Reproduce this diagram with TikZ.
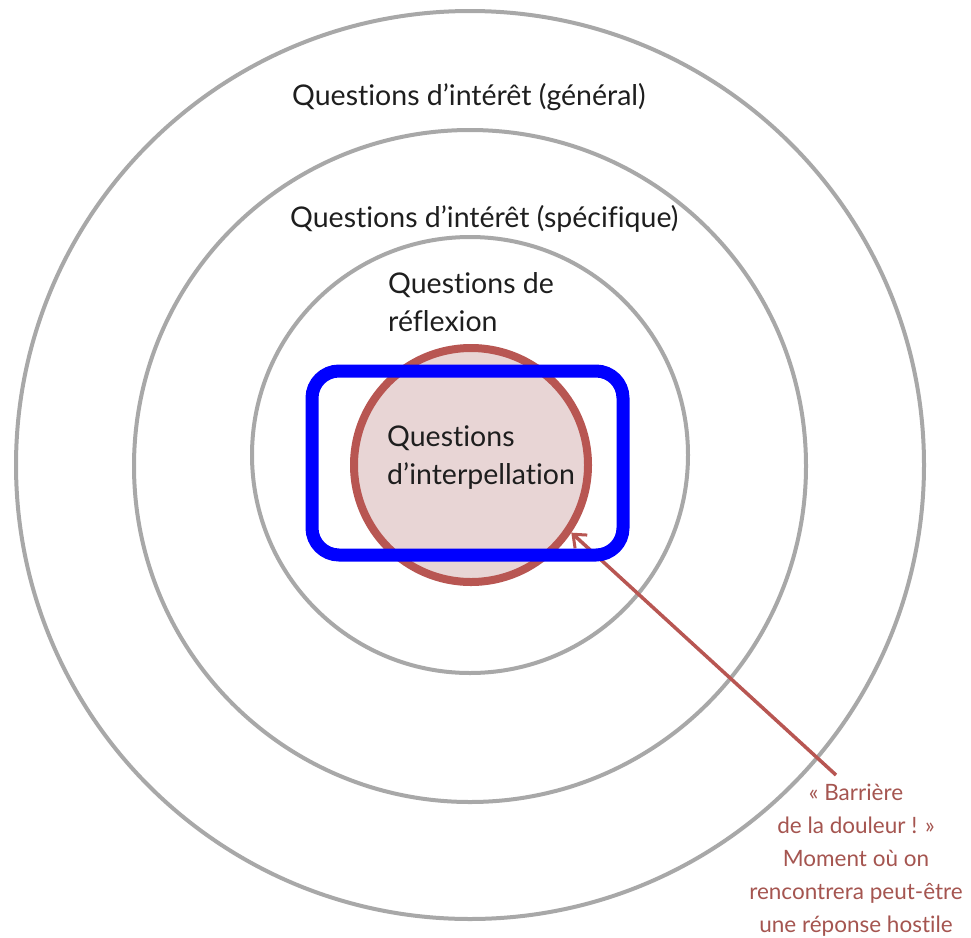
\documentclass[tikz,border=0pt]{standalone}
\usepackage{fontspec}
\setmainfont{Lato}[Ligatures=NoCommon]
\usetikzlibrary{arrows.meta}
\definecolor{ringgray}{RGB}{168,168,168}
\definecolor{corered}{RGB}{184,86,82}
\definecolor{corefill}{RGB}{232,213,213}
\definecolor{notered}{RGB}{165,85,80}
\definecolor{txt}{RGB}{30,30,30}
\tikzset{
  ring/.style={circle, draw=ringgray, line width=4pt, inner sep=0pt},
  lbl/.style={anchor=base west, inner sep=0pt, text=txt, font=\fontsize{28.5}{38}\selectfont, align=left},
  notelbl/.style={anchor=base, inner sep=0pt, text=notered, font=\fontsize{22.5}{33}\selectfont, align=center},
}
\begin{document}
\begin{tikzpicture}[x=1pt,y=-1pt]
\useasboundingbox (0,0) rectangle (971,937);
\fill[white] (0,0) rectangle (971,937);
\node[ring, minimum size=908pt] (outer) at (470,465) {};
\node[ring, minimum size=672pt] (middle) at (470,466) {};
\node[ring, minimum size=436pt] (inner) at (470,455) {};
\node[circle, draw=corered, fill=corefill, line width=8pt, inner sep=0pt, minimum size=234pt] (core) at (471,465) {};
\node[lbl] (general) at (292,105) {Questions d’intérêt (général)};
\node[lbl] (specific) at (290,227) {Questions d’intérêt (spécifique)};
\node[lbl] (reflexion) at (388,331) {Questions de\\réflexion};
\node[lbl] (interp) at (387,484) {Questions\\d’interpellation};
\node[notelbl] (note) at (856,932) {« Barrière\\de la douleur ! »\\Moment où on\\rencontrera peut-être\\une réponse hostile};
\coordinate (tail) at (836,775);
\draw[corered, line width=3.5pt, -{Straight Barb[length=11pt,width=18pt,line width=3pt]}] (tail) -- (core.-34.5);
\node[draw=blue, line width=13pt, rounded corners=27pt, inner sep=0pt, minimum width=311pt, minimum height=184pt] (focus) at (467.5,463) {};
\end{tikzpicture}
\end{document}
